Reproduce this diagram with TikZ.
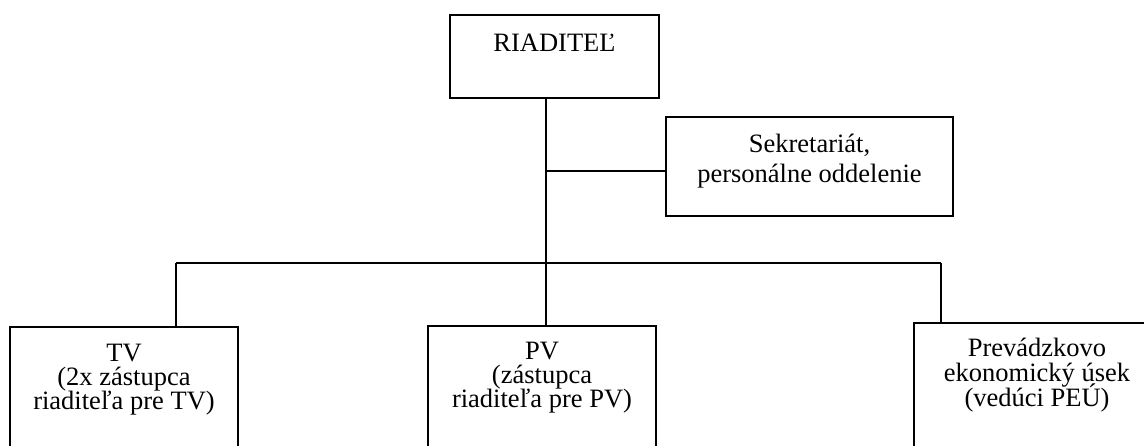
\documentclass[tikz,border=0pt]{standalone}
\usepackage{fontspec}
\setmainfont{Liberation Serif}
\usetikzlibrary{calc}

% text of a box: width, height, first baseline, line skip, text
\newcommand{\boxtext}[5]{%
  \parbox[t][#2][t]{#1}{\centering\baselineskip=#4\lineskiplimit=-20pt\relax
    \rule{0pt}{#3}#5}}

\tikzset{
  orgbox/.style = {draw, line width=2.2pt, inner sep=0pt, outer sep=0pt,
                   anchor=north west, font=\fontsize{26.5}{30}\selectfont},
  orgline/.style = {line width=2.2pt}
}

\begin{document}
\begin{tikzpicture}[x=1pt, y=-1pt]

  % page
  \useasboundingbox (0,0) rectangle (1144,446);
  \clip (0,0) rectangle (1144,446);

  % Define points for the branches
  \coordinate (sektap) at (546,171);
  \coordinate (tvtap) at (176,263);
  \coordinate (pvtap) at (546,263);
  \coordinate (petap) at (941,263);

  % The boxes
  \node[orgbox] (riad) at (450,15) {\boxtext{209pt}{83pt}{37pt}{30pt}{RIADITEĽ}};
  \node[orgbox] (sekr) at (666,117) {\boxtext{287pt}{99pt}{36pt}{30pt}{Sekretariát,\\ personálne oddelenie}};
  \node[orgbox] (tv) at (10,327) {\boxtext{228pt}{140pt}{35pt}{24pt}{TV\\ (2x zástupca\\ riaditeľa pre TV)}};
  \node[orgbox] (pv) at (428,326) {\boxtext{228pt}{140pt}{34pt}{24pt}{PV\\ (zástupca\\ riaditeľa pre PV)}};
  \node[orgbox] (pe) at (914,323) {\boxtext{246pt}{140pt}{34pt}{25pt}{Prevádzkovo\\ ekonomický úsek\\ (vedúci PEÚ)}};

  % Draw the lines
  \draw[orgline] (riad.south -| pvtap) -- (pv.north -| pvtap);
  \draw[orgline] (sektap) -- (sektap -| sekr.west);
  \draw[orgline] (tvtap) -- (petap);
  \draw[orgline] (tvtap) -- (tvtap |- tv.north);
  \draw[orgline] (petap) -- (petap |- pe.north);

\end{tikzpicture}
\end{document}
